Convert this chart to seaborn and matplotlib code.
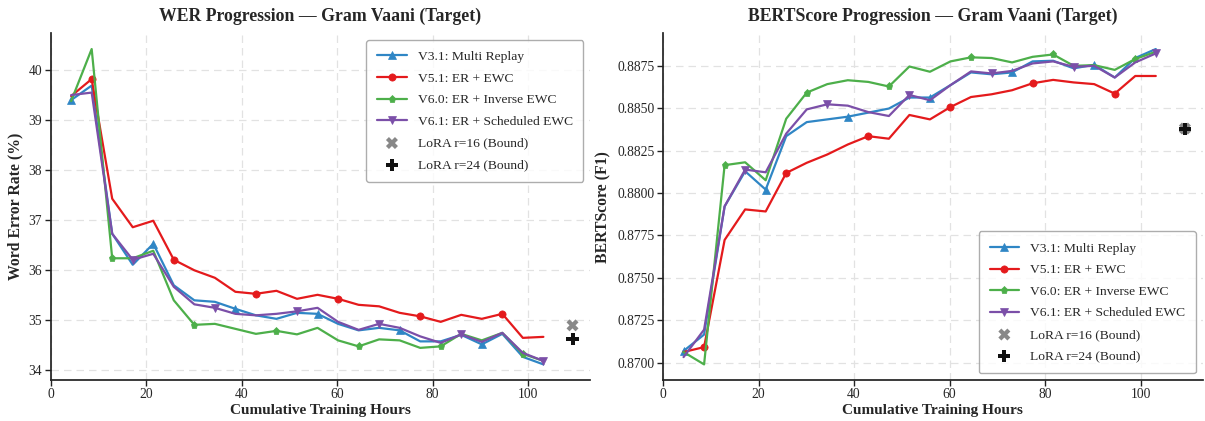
import matplotlib
matplotlib.use("Agg")
import matplotlib.pyplot as plt
import seaborn as sns
import pandas as pd

hours = [4.3, 8.6, 12.9, 17.2, 21.5, 25.8, 30.1, 34.4, 38.7, 43.0, 47.3, 51.6,
         55.9, 60.2, 64.5, 68.8, 73.1, 77.4, 81.7, 86.0, 90.3, 94.6, 98.9, 103.2]

series_names = ["V3.1: Multi Replay", "V5.1: ER + EWC",
                "V6.0: ER + Inverse EWC", "V6.1: ER + Scheduled EWC"]

wer_v31 = [39.40, 39.69, 36.73, 36.11, 36.53, 35.70, 35.40, 35.37, 35.23, 35.10, 35.03, 35.15,
           35.13, 34.93, 34.80, 34.85, 34.80, 34.58, 34.58, 34.71, 34.52, 34.73, 34.27, 34.12]
wer_v51 = [39.48, 39.82, 37.43, 36.86, 36.99, 36.21, 36.00, 35.85, 35.57, 35.53, 35.59, 35.43,
           35.51, 35.43, 35.31, 35.28, 35.15, 35.08, 34.97, 35.11, 35.03, 35.13, 34.65, 34.67]
wer_v60 = [39.38, 40.42, 36.24, 36.24, 36.39, 35.40, 34.91, 34.93, 34.83, 34.73, 34.79, 34.72,
           34.85, 34.60, 34.48, 34.62, 34.60, 34.45, 34.48, 34.73, 34.60, 34.75, 34.33, 34.19]
wer_v61 = [39.50, 39.55, 36.73, 36.21, 36.33, 35.67, 35.32, 35.25, 35.13, 35.10, 35.13, 35.18,
           35.25, 34.97, 34.81, 34.93, 34.85, 34.68, 34.55, 34.72, 34.57, 34.75, 34.35, 34.19]

bert_v31 = [0.87068, 0.87165, 0.87921, 0.88128, 0.88020, 0.88335, 0.88418, 0.88434, 0.88450, 0.88474, 0.88498, 0.88563,
            0.88563, 0.88636, 0.88711, 0.88700, 0.88711, 0.88776, 0.88780, 0.88735, 0.88756, 0.88681, 0.88796, 0.88849]
bert_v51 = [0.87062, 0.87091, 0.87723, 0.87903, 0.87891, 0.88118, 0.88178, 0.88227, 0.88286, 0.88335, 0.88320, 0.88460,
            0.88434, 0.88507, 0.88566, 0.88582, 0.88606, 0.88647, 0.88667, 0.88652, 0.88642, 0.88586, 0.88690, 0.88690]
bert_v60 = [0.87062, 0.86989, 0.88164, 0.88181, 0.88075, 0.88438, 0.88592, 0.88642, 0.88665, 0.88655, 0.88628, 0.88746,
            0.88715, 0.88776, 0.88800, 0.88796, 0.88770, 0.88803, 0.88817, 0.88750, 0.88754, 0.88726, 0.88790, 0.88833]
bert_v61 = [0.87032, 0.87194, 0.87921, 0.88138, 0.88122, 0.88350, 0.88493, 0.88523, 0.88515, 0.88477, 0.88454, 0.88578,
            0.88547, 0.88636, 0.88717, 0.88705, 0.88720, 0.88764, 0.88776, 0.88744, 0.88750, 0.88681, 0.88770, 0.88823]

lora_hours = [109.3, 109.3]
lora_names = ["LoRA r=16 (Bound)", "LoRA r=24 (Bound)"]
lora_wer = [34.90, 34.62]
lora_bert = [0.88380, 0.88380]

colors = ["#2f86c5", "#e41a1c", "#4daf4a", "#7b4fa8"]
markers = ["^", "o", "p", "v"]
lora_colors = ["#888888", "#111111"]
lora_markers = ["X", "P"]

sns.set_theme(style="whitegrid", rc={"axes.edgecolor": "#222222"})
plt.rcParams["font.family"] = ["Liberation Serif", "DejaVu Serif"]

fig, axes = plt.subplots(1, 2, figsize=(12.05, 4.21), dpi=100)
fig.subplots_adjust(left=0.042, right=0.998, top=0.921, bottom=0.097, wspace=0.135)

panels = [
    (axes[0], [wer_v31, wer_v51, wer_v60, wer_v61], lora_wer,
     "WER Progression — Gram Vaani (Target)", "Word Error Rate (%)", "upper right"),
    (axes[1], [bert_v31, bert_v51, bert_v60, bert_v61], lora_bert,
     "BERTScore Progression — Gram Vaani (Target)", "BERTScore (F1)", "lower right"),
]

for ax, ys, lora_vals, title, ylabel, loc in panels:
    for i, (name, y) in enumerate(zip(series_names, ys)):
        df = pd.DataFrame({"hours": hours, "value": y})
        sns.lineplot(data=df, x="hours", y="value", ax=ax, color=colors[i], marker=markers[i],
                     markersize=5.2, linewidth=1.6, markevery=(i, 4),
                     markeredgecolor=colors[i], markeredgewidth=0.5, label=name)
    for j in range(2):
        sns.scatterplot(x=[lora_hours[j]], y=[lora_vals[j]], ax=ax, color=lora_colors[j],
                        marker=lora_markers[j], s=75, edgecolor="none", label=lora_names[j])
    ax.set_xlim(0, 113)
    ax.set_title(title, fontsize=12.8, fontweight="bold", pad=9)
    ax.set_xlabel("Cumulative Training Hours", fontsize=11, fontweight="bold", labelpad=2)
    ax.set_ylabel(ylabel, fontsize=11.3, fontweight="bold")
    ax.tick_params(axis="both", labelsize=9.8, length=4, width=1, color="#222222",
                   left=True, bottom=True, pad=2)
    ax.set_xticks([0, 20, 40, 60, 80, 100])
    sns.despine(ax=ax)
    ax.grid(True, linestyle=(0, (6, 4)), color="#e2e2e2", linewidth=0.9)
    leg = ax.legend(loc=loc, fontsize=9.7, frameon=True, fancybox=True,
                    borderpad=0.8, labelspacing=0.68, handlelength=2.2, handletextpad=0.8)
    leg.get_frame().set_edgecolor("#999999")
    leg.get_frame().set_linewidth(1)

axes[1].yaxis.set_major_formatter(matplotlib.ticker.FormatStrFormatter("%.4f"))

fig.savefig("out.png", dpi=100)
